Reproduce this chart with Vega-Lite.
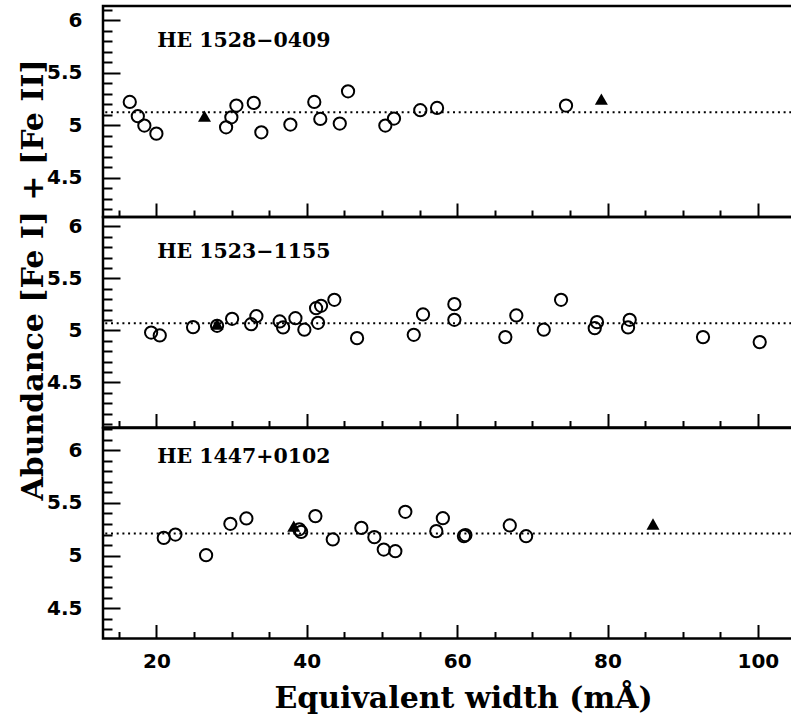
{
  "$schema": "https://vega.github.io/schema/vega-lite/v6.json",
  "background": "white",
  "padding": {"left": 16, "top": 4, "right": 0, "bottom": 0},
  "spacing": 0,
  "bounds": "flush",
  "config": {
    "view": {"stroke": "black", "strokeWidth": 2.5},
    "concat": {"spacing": 0},
    "axis": {"domain": false, "grid": false, "tickColor": "black", "tickWidth": 2, "labelFont": "DejaVu Sans", "labelFontWeight": "bold", "labelFontSize": 20, "labelColor": "black", "titleColor": "black", "labelFlush": false, "titleFont": "DejaVu Serif", "titleFontWeight": "bold", "titleFontSize": 30}
  },
  "datasets": {
    "pts": [
      {"star": "HE 1528-0409", "sym": "circle", "ew": 16.46, "abund": 5.222},
      {"star": "HE 1528-0409", "sym": "circle", "ew": 17.53, "abund": 5.086},
      {"star": "HE 1528-0409", "sym": "circle", "ew": 18.40, "abund": 4.997},
      {"star": "HE 1528-0409", "sym": "circle", "ew": 20.00, "abund": 4.920},
      {"star": "HE 1528-0409", "sym": "circle", "ew": 29.27, "abund": 4.980},
      {"star": "HE 1528-0409", "sym": "circle", "ew": 29.97, "abund": 5.076},
      {"star": "HE 1528-0409", "sym": "circle", "ew": 30.64, "abund": 5.188},
      {"star": "HE 1528-0409", "sym": "circle", "ew": 32.95, "abund": 5.213},
      {"star": "HE 1528-0409", "sym": "circle", "ew": 33.96, "abund": 4.933},
      {"star": "HE 1528-0409", "sym": "circle", "ew": 37.82, "abund": 5.007},
      {"star": "HE 1528-0409", "sym": "circle", "ew": 41.00, "abund": 5.222},
      {"star": "HE 1528-0409", "sym": "circle", "ew": 41.80, "abund": 5.060},
      {"star": "HE 1528-0409", "sym": "circle", "ew": 44.39, "abund": 5.016},
      {"star": "HE 1528-0409", "sym": "circle", "ew": 45.49, "abund": 5.324},
      {"star": "HE 1528-0409", "sym": "circle", "ew": 50.45, "abund": 4.997},
      {"star": "HE 1528-0409", "sym": "circle", "ew": 51.60, "abund": 5.064},
      {"star": "HE 1528-0409", "sym": "circle", "ew": 55.10, "abund": 5.143},
      {"star": "HE 1528-0409", "sym": "circle", "ew": 57.33, "abund": 5.165},
      {"star": "HE 1528-0409", "sym": "circle", "ew": 74.48, "abund": 5.188},
      {"star": "HE 1528-0409", "sym": "tri", "ew": 26.40, "abund": 5.086},
      {"star": "HE 1528-0409", "sym": "tri", "ew": 79.18, "abund": 5.250},
      {"star": "HE 1523-1155", "sym": "circle", "ew": 19.30, "abund": 4.980},
      {"star": "HE 1523-1155", "sym": "circle", "ew": 20.45, "abund": 4.952},
      {"star": "HE 1523-1155", "sym": "circle", "ew": 24.88, "abund": 5.032},
      {"star": "HE 1523-1155", "sym": "circle", "ew": 28.07, "abund": 5.045},
      {"star": "HE 1523-1155", "sym": "circle", "ew": 30.07, "abund": 5.112},
      {"star": "HE 1523-1155", "sym": "circle", "ew": 32.60, "abund": 5.060},
      {"star": "HE 1523-1155", "sym": "circle", "ew": 33.30, "abund": 5.137},
      {"star": "HE 1523-1155", "sym": "circle", "ew": 36.40, "abund": 5.087},
      {"star": "HE 1523-1155", "sym": "circle", "ew": 36.85, "abund": 5.029},
      {"star": "HE 1523-1155", "sym": "circle", "ew": 38.49, "abund": 5.118},
      {"star": "HE 1523-1155", "sym": "circle", "ew": 39.68, "abund": 5.007},
      {"star": "HE 1523-1155", "sym": "circle", "ew": 41.50, "abund": 5.074},
      {"star": "HE 1523-1155", "sym": "circle", "ew": 41.24, "abund": 5.214},
      {"star": "HE 1523-1155", "sym": "circle", "ew": 41.90, "abund": 5.237},
      {"star": "HE 1523-1155", "sym": "circle", "ew": 43.67, "abund": 5.295},
      {"star": "HE 1523-1155", "sym": "circle", "ew": 46.69, "abund": 4.926},
      {"star": "HE 1523-1155", "sym": "circle", "ew": 54.23, "abund": 4.958},
      {"star": "HE 1523-1155", "sym": "circle", "ew": 55.46, "abund": 5.154},
      {"star": "HE 1523-1155", "sym": "circle", "ew": 59.63, "abund": 5.253},
      {"star": "HE 1523-1155", "sym": "circle", "ew": 59.63, "abund": 5.103},
      {"star": "HE 1523-1155", "sym": "circle", "ew": 66.41, "abund": 4.936},
      {"star": "HE 1523-1155", "sym": "circle", "ew": 67.87, "abund": 5.144},
      {"star": "HE 1523-1155", "sym": "circle", "ew": 71.52, "abund": 5.007},
      {"star": "HE 1523-1155", "sym": "circle", "ew": 73.82, "abund": 5.295},
      {"star": "HE 1523-1155", "sym": "circle", "ew": 78.60, "abund": 5.080},
      {"star": "HE 1523-1155", "sym": "circle", "ew": 78.30, "abund": 5.022},
      {"star": "HE 1523-1155", "sym": "circle", "ew": 82.95, "abund": 5.103},
      {"star": "HE 1523-1155", "sym": "circle", "ew": 82.73, "abund": 5.029},
      {"star": "HE 1523-1155", "sym": "circle", "ew": 92.70, "abund": 4.936},
      {"star": "HE 1523-1155", "sym": "circle", "ew": 100.24, "abund": 4.888},
      {"star": "HE 1523-1155", "sym": "tri", "ew": 28.07, "abund": 5.060},
      {"star": "HE 1447+0102", "sym": "circle", "ew": 20.98, "abund": 5.168},
      {"star": "HE 1447+0102", "sym": "circle", "ew": 22.53, "abund": 5.200},
      {"star": "HE 1447+0102", "sym": "circle", "ew": 26.61, "abund": 5.003},
      {"star": "HE 1447+0102", "sym": "circle", "ew": 29.84, "abund": 5.302},
      {"star": "HE 1447+0102", "sym": "circle", "ew": 31.97, "abund": 5.353},
      {"star": "HE 1447+0102", "sym": "circle", "ew": 39.00, "abund": 5.250},
      {"star": "HE 1447+0102", "sym": "circle", "ew": 39.25, "abund": 5.225},
      {"star": "HE 1447+0102", "sym": "circle", "ew": 41.15, "abund": 5.375},
      {"star": "HE 1447+0102", "sym": "circle", "ew": 43.46, "abund": 5.153},
      {"star": "HE 1447+0102", "sym": "circle", "ew": 47.26, "abund": 5.263},
      {"star": "HE 1447+0102", "sym": "circle", "ew": 48.99, "abund": 5.175},
      {"star": "HE 1447+0102", "sym": "circle", "ew": 50.24, "abund": 5.057},
      {"star": "HE 1447+0102", "sym": "circle", "ew": 51.78, "abund": 5.041},
      {"star": "HE 1447+0102", "sym": "circle", "ew": 53.11, "abund": 5.416},
      {"star": "HE 1447+0102", "sym": "circle", "ew": 57.23, "abund": 5.232},
      {"star": "HE 1447+0102", "sym": "circle", "ew": 58.10, "abund": 5.355},
      {"star": "HE 1447+0102", "sym": "circle", "ew": 60.90, "abund": 5.185},
      {"star": "HE 1447+0102", "sym": "circle", "ew": 61.10, "abund": 5.195},
      {"star": "HE 1447+0102", "sym": "circle", "ew": 67.00, "abund": 5.286},
      {"star": "HE 1447+0102", "sym": "circle", "ew": 69.17, "abund": 5.184},
      {"star": "HE 1447+0102", "sym": "tri", "ew": 38.27, "abund": 5.280},
      {"star": "HE 1447+0102", "sym": "tri", "ew": 86.05, "abund": 5.300}
    ]
  },
  "vconcat": [
    {
      "width": 694, "height": 211,
      "resolve": {"axis": {"x": "independent", "y": "independent"}},
      "layer": [
        {"data": {"values": [{}]},
         "mark": {"type": "rule", "color": "black", "strokeWidth": 2, "strokeDash": [2, 3.7]},
         "encoding": {"y": {"datum": 5.124, "type": "quantitative", "scale": {"domain": [4.125, 6.137], "nice": false, "zero": false},
           "axis": {"orient": "left", "values": [4.5, 5, 5.5, 6], "format": "~g", "tickSize": -17, "labelPadding": 38, "title": null}}}},
        {"data": {"name": "pts"}, "transform": [{"filter": "datum.star === 'HE 1528-0409' && datum.sym === 'tri'"}],
         "mark": {"type": "point", "shape": "triangle-up", "filled": true, "color": "black", "size": 169, "opacity": 1},
         "encoding": {
           "x": {"field": "ew", "type": "quantitative", "scale": {"domain": [12.9, 105.2], "nice": false, "zero": false},
             "axis": {"orient": "bottom", "values": [15, 25, 30, 35, 45, 50, 55, 65, 70, 75, 85, 90, 95, 105], "tickSize": -7, "labels": false, "title": null}},
           "y": {"field": "abund", "type": "quantitative", "scale": {"domain": [4.125, 6.137], "nice": false, "zero": false},
             "axis": {"orient": "left", "values": [4.2, 4.3, 4.4, 4.6, 4.7, 4.8, 4.9, 5.1, 5.2, 5.3, 5.4, 5.6, 5.7, 5.8, 5.9, 6.1], "tickSize": -9, "labels": false, "title": null}}}},
        {"data": {"name": "pts"}, "transform": [{"filter": "datum.star === 'HE 1528-0409' && datum.sym === 'circle'"}],
         "mark": {"type": "point", "shape": "circle", "filled": false, "color": "black", "strokeWidth": 2, "size": 150, "opacity": 1},
         "encoding": {
           "x": {"field": "ew", "type": "quantitative", "scale": {"domain": [12.9, 105.2], "nice": false, "zero": false},
             "axis": {"orient": "bottom", "values": [20, 40, 60, 80, 100], "tickSize": -14, "labels": false, "title": null}},
           "y": {"field": "abund", "type": "quantitative", "scale": {"domain": [4.125, 6.137], "nice": false, "zero": false}, "axis": null}}},
        {"data": {"values": [{"label": "HE 1528−0409"}]},
         "mark": {"type": "text", "font": "DejaVu Serif", "fontWeight": "bold", "fontSize": 20.5, "align": "left", "baseline": "alphabetic", "color": "black"},
         "encoding": {"text": {"field": "label"},
           "x": {"datum": 20.1, "type": "quantitative", "scale": {"domain": [12.9, 105.2], "nice": false, "zero": false}, "axis": null},
           "y": {"datum": 5.745, "type": "quantitative", "scale": {"domain": [4.125, 6.137], "nice": false, "zero": false}, "axis": null}}}
      ]
    },
    {
      "width": 694, "height": 210.5,
      "resolve": {"axis": {"x": "independent", "y": "independent"}},
      "layer": [
        {"data": {"values": [{}]},
         "mark": {"type": "rule", "color": "black", "strokeWidth": 2, "strokeDash": [2, 3.7]},
         "encoding": {"y": {"datum": 5.07, "type": "quantitative", "scale": {"domain": [4.067, 6.091], "nice": false, "zero": false},
           "axis": {"orient": "left", "values": [4.5, 5, 5.5, 6], "format": "~g", "tickSize": -17, "labelPadding": 38,
             "title": "Abundance [Fe I] + [Fe II]", "titleX": -61, "titleY": 62.5, "titleBaseline": "alphabetic", "titleAngle": 270, "titleAlign": "center"}}}},
        {"data": {"name": "pts"}, "transform": [{"filter": "datum.star === 'HE 1523-1155' && datum.sym === 'tri'"}],
         "mark": {"type": "point", "shape": "triangle-up", "filled": true, "color": "black", "size": 169, "opacity": 1},
         "encoding": {
           "x": {"field": "ew", "type": "quantitative", "scale": {"domain": [12.9, 105.2], "nice": false, "zero": false},
             "axis": {"orient": "bottom", "values": [15, 25, 30, 35, 45, 50, 55, 65, 70, 75, 85, 90, 95, 105], "tickSize": -7, "labels": false, "title": null}},
           "y": {"field": "abund", "type": "quantitative", "scale": {"domain": [4.067, 6.091], "nice": false, "zero": false},
             "axis": {"orient": "left", "values": [4.1, 4.2, 4.3, 4.4, 4.6, 4.7, 4.8, 4.9, 5.1, 5.2, 5.3, 5.4, 5.6, 5.7, 5.8, 5.9], "tickSize": -9, "labels": false, "title": null}}}},
        {"data": {"name": "pts"}, "transform": [{"filter": "datum.star === 'HE 1523-1155' && datum.sym === 'circle'"}],
         "mark": {"type": "point", "shape": "circle", "filled": false, "color": "black", "strokeWidth": 2, "size": 150, "opacity": 1},
         "encoding": {
           "x": {"field": "ew", "type": "quantitative", "scale": {"domain": [12.9, 105.2], "nice": false, "zero": false},
             "axis": {"orient": "bottom", "values": [20, 40, 60, 80, 100], "tickSize": -14, "labels": false, "title": null}},
           "y": {"field": "abund", "type": "quantitative", "scale": {"domain": [4.067, 6.091], "nice": false, "zero": false}, "axis": null}}},
        {"data": {"values": [{"label": "HE 1523−1155"}]},
         "mark": {"type": "text", "font": "DejaVu Serif", "fontWeight": "bold", "fontSize": 20.5, "align": "left", "baseline": "alphabetic", "color": "black"},
         "encoding": {"text": {"field": "label"},
           "x": {"datum": 20.1, "type": "quantitative", "scale": {"domain": [12.9, 105.2], "nice": false, "zero": false}, "axis": null},
           "y": {"datum": 5.695, "type": "quantitative", "scale": {"domain": [4.067, 6.091], "nice": false, "zero": false}, "axis": null}}}
      ]
    },
    {
      "width": 694, "height": 210.5,
      "resolve": {"axis": {"x": "independent", "y": "independent"}},
      "layer": [
        {"data": {"values": [{}]},
         "mark": {"type": "rule", "color": "black", "strokeWidth": 2, "strokeDash": [2, 3.7]},
         "encoding": {"y": {"datum": 5.21, "type": "quantitative", "scale": {"domain": [4.211, 6.213], "nice": false, "zero": false},
           "axis": {"orient": "left", "values": [4.5, 5, 5.5, 6], "format": "~g", "tickSize": -17, "labelPadding": 38, "title": null}}}},
        {"data": {"name": "pts"}, "transform": [{"filter": "datum.star === 'HE 1447+0102' && datum.sym === 'tri'"}],
         "mark": {"type": "point", "shape": "triangle-up", "filled": true, "color": "black", "size": 169, "opacity": 1},
         "encoding": {
           "x": {"field": "ew", "type": "quantitative", "scale": {"domain": [12.9, 105.2], "nice": false, "zero": false},
             "axis": {"orient": "bottom", "values": [15, 25, 30, 35, 45, 50, 55, 65, 70, 75, 85, 90, 95, 105], "tickSize": -7, "labels": false, "title": null}},
           "y": {"field": "abund", "type": "quantitative", "scale": {"domain": [4.211, 6.213], "nice": false, "zero": false},
             "axis": {"orient": "left", "values": [4.3, 4.4, 4.6, 4.7, 4.8, 4.9, 5.1, 5.2, 5.3, 5.4, 5.6, 5.7, 5.8, 5.9, 6.1, 6.2], "tickSize": -9, "labels": false, "title": null}}}},
        {"data": {"name": "pts"}, "transform": [{"filter": "datum.star === 'HE 1447+0102' && datum.sym === 'circle'"}],
         "mark": {"type": "point", "shape": "circle", "filled": false, "color": "black", "strokeWidth": 2, "size": 150, "opacity": 1},
         "encoding": {
           "x": {"field": "ew", "type": "quantitative", "scale": {"domain": [12.9, 105.2], "nice": false, "zero": false},
             "axis": {"orient": "bottom", "values": [20, 40, 60, 80, 100], "tickSize": -14, "labelPadding": 27,
               "title": "Equivalent width (mÅ)", "titleX": 360, "titleY": 69, "titleBaseline": "alphabetic", "titleAlign": "center"}},
           "y": {"field": "abund", "type": "quantitative", "scale": {"domain": [4.211, 6.213], "nice": false, "zero": false}, "axis": null}}},
        {"data": {"values": [{"label": "HE 1447+0102"}]},
         "mark": {"type": "text", "font": "DejaVu Serif", "fontWeight": "bold", "fontSize": 20.5, "align": "left", "baseline": "alphabetic", "color": "black"},
         "encoding": {"text": {"field": "label"},
           "x": {"datum": 20.1, "type": "quantitative", "scale": {"domain": [12.9, 105.2], "nice": false, "zero": false}, "axis": null},
           "y": {"datum": 5.884, "type": "quantitative", "scale": {"domain": [4.211, 6.213], "nice": false, "zero": false}, "axis": null}}}
      ]
    }
  ]
}
